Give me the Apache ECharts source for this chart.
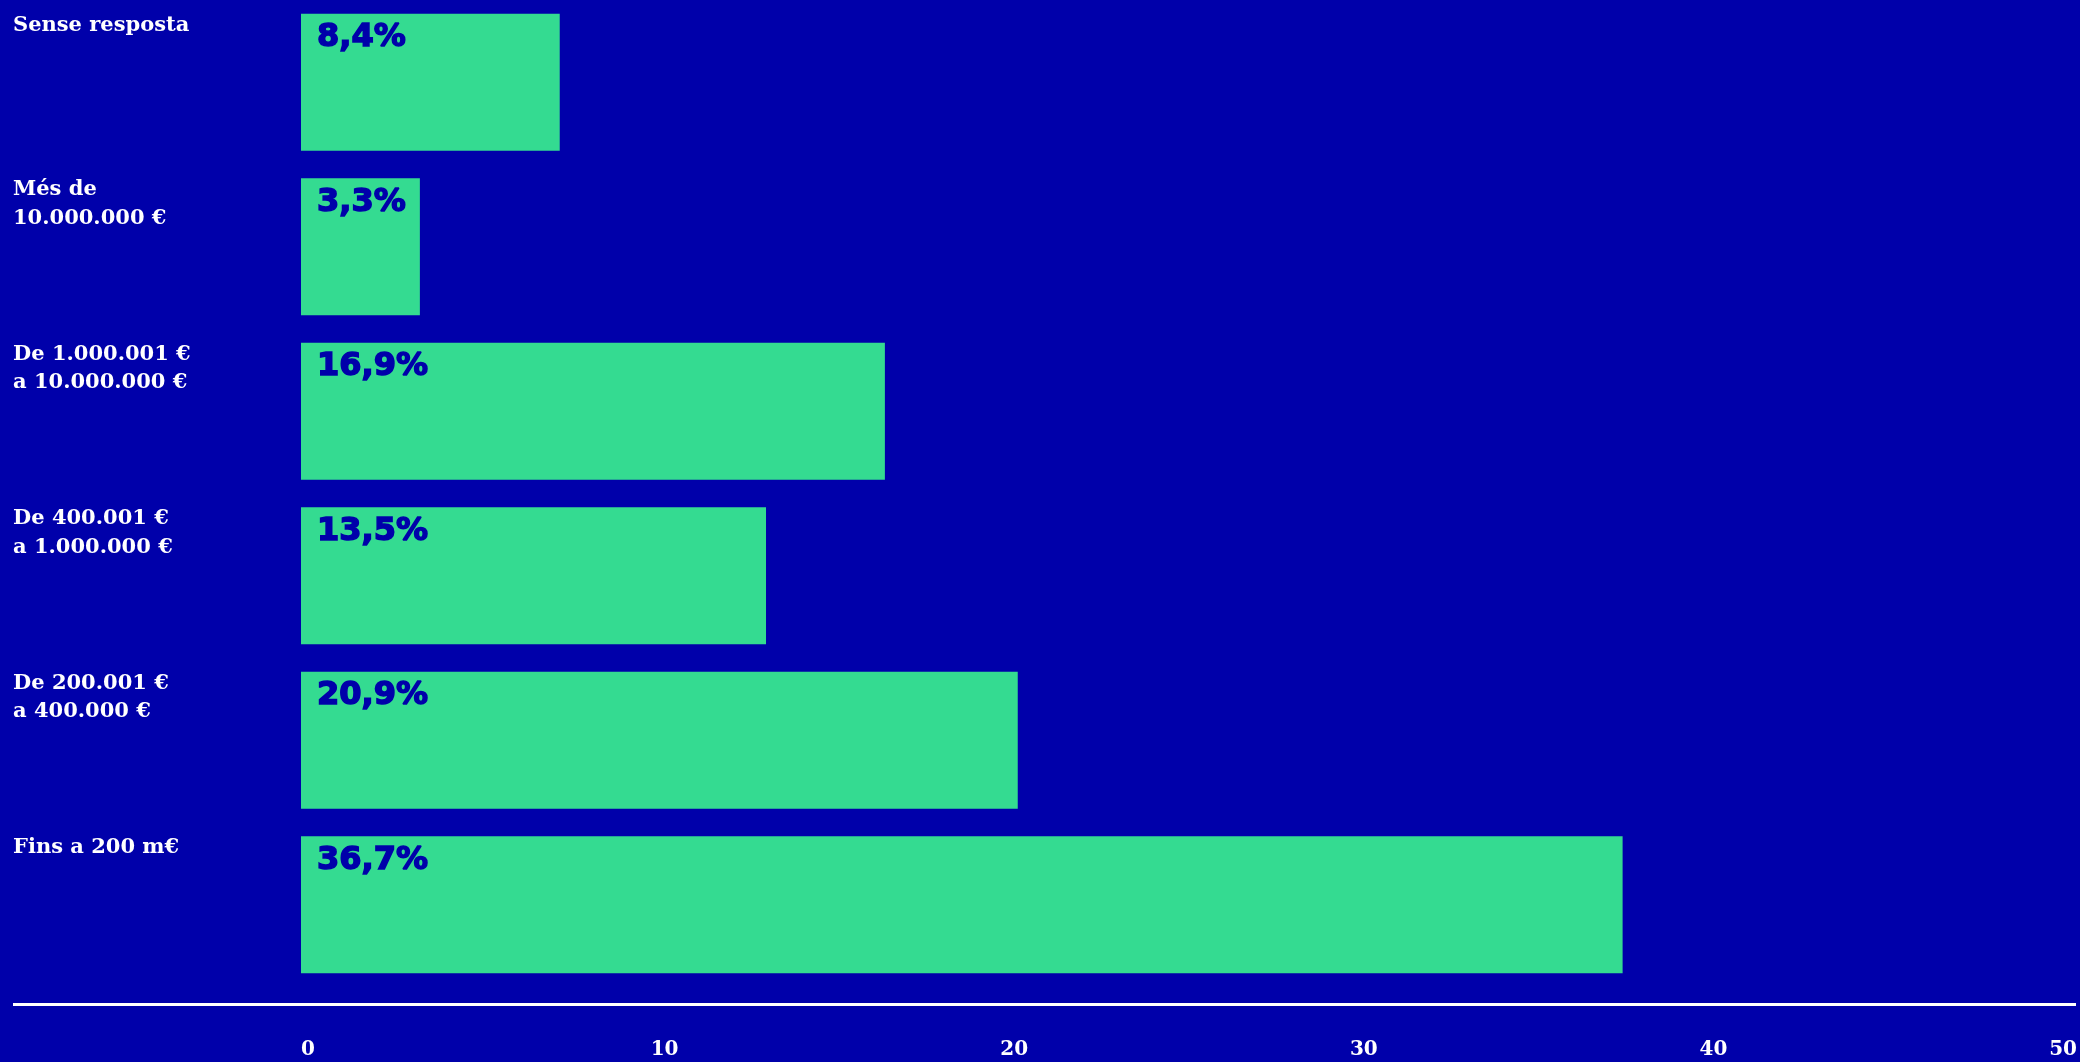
<!DOCTYPE html>
<html>
<head>
<meta charset="utf-8">
<script src="https://cdn.jsdelivr.net/npm/echarts@6/dist/echarts.min.js"></script>
<style>
  html, body { margin: 0; padding: 0; background: #0000AA; }
  #chart { width: 2080px; height: 1062px; }
</style>
</head>
<body>
<div id="chart"></div>
<script>
const categories = [
  'Sense resposta',
  'Més de\n10.000.000 €',
  'De 1.000.001 €\na 10.000.000 €',
  'De 400.001 €\na 1.000.000 €',
  'De 200.001 €\na 400.000 €',
  'Fins a 200 m€'
];
const barValues = [7.4, 3.4, 16.7, 13.3, 20.5, 37.8];
const barLabels = ['8,4%', '3,3%', '16,9%', '13,5%', '20,9%', '36,7%'];
const xMin = 0, xMax = 50, xStep = 10;

const BG = '#0000AA';
const GREEN = '#34DB91';
const WHITE = '#FFFFFF';

// pad each category label with empty lines so its first line sits at the top of its band
function padLines(v) {
  const n = v.split('\n').length;
  let s = v;
  for (let i = n; i < 5; i++) s += '\n';
  return s;
}

const chart = echarts.init(document.getElementById('chart'), null, { renderer: 'canvas' });
chart.setOption({
  backgroundColor: BG,
  animation: false,
  grid: { left: 301, right: 29, top: 0, height: 987, containLabel: false },
  xAxis: {
    type: 'value', min: xMin, max: xMax, interval: xStep,
    axisLine: { show: false }, axisTick: { show: false }, splitLine: { show: false },
    axisLabel: {
      color: WHITE, fontFamily: 'DejaVu Serif', fontWeight: 'bold', fontSize: 20,
      align: 'left', margin: 53, lineHeight: 20
    }
  },
  yAxis: {
    type: 'category', data: categories, inverse: true,
    axisLine: { show: false }, axisTick: { show: false }, splitLine: { show: false },
    axisLabel: {
      interval: 0, color: WHITE, fontFamily: 'DejaVu Serif', fontWeight: 'bold',
      fontSize: 21, lineHeight: 28.5, align: 'left', verticalAlign: 'middle',
      margin: 288, padding: [0, 0, 0, 0],
      formatter: padLines
    }
  },
  graphic: [{
    type: 'line', silent: true,
    shape: { x1: 13, y1: 1004.5, x2: 2076, y2: 1004.5 },
    style: { stroke: WHITE, lineWidth: 3 }
  }],
  series: [{
    type: 'bar', data: barValues, barWidth: 137,
    itemStyle: { color: GREEN },
    label: {
      show: true, position: [16, 8], color: BG,
      textBorderColor: BG, textBorderWidth: 1.5,
      fontFamily: 'DejaVu Sans', fontWeight: 'bold', fontSize: 32, lineHeight: 32,
      formatter: p => barLabels[p.dataIndex]
    }
  }]
});
</script>
</body>
</html>
